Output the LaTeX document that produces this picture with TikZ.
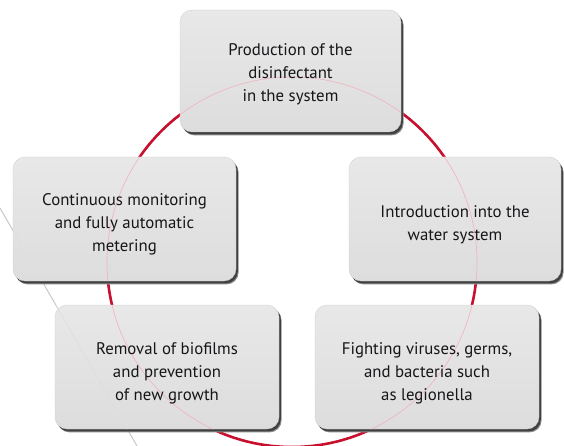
\documentclass[tikz,border=0pt]{standalone}
\usepackage{fontspec}
\setmainfont{PT Sans}
\usetikzlibrary{shadows}
\definecolor{ringred}{RGB}{200,16,46}
\definecolor{boxtop}{RGB}{233,232,233}
\definecolor{boxbot}{RGB}{222,221,222}
\definecolor{txt}{RGB}{22,22,24}
\definecolor{thinline}{RGB}{200,200,200}
\begin{document}
\begin{tikzpicture}[x=1pt,y=-1pt,
  ring/.style={draw=ringred, line width=2.6pt},
  ghost/.style={draw=ringred!30, line width=0.7pt},
  thin/.style={draw=thinline, line width=1pt},
  ghostthin/.style={draw=thinline!60, line width=0.7pt},
  stagebox/.style={rounded corners=12pt, inner sep=0pt,
    top color=boxtop, bottom color=boxbot,
    drop shadow={shadow xshift=2.6pt, shadow yshift=-3.4pt, fill=black!45, opacity=1},
    drop shadow={shadow xshift=1.8pt, shadow yshift=-2.4pt, fill=black!75, opacity=1},
    draw=white!80!black, line width=0.3pt},
  stagetext/.style={align=center, inner sep=0pt, text=txt,
    font=\fontsize{16.8}{23}\selectfont}
]
\useasboundingbox (0,0) rectangle (564,446);
\coordinate (c) at (292,262);
\coordinate (ga) at (0,208);
\coordinate (gb) at (137,446);
\draw[thin] (ga) -- (gb);
\draw[ring] (c) circle[radius=185pt];

\node[stagebox, minimum width=221pt, minimum height=122pt] (top) at (290.5,71) {};
\node[stagebox, minimum width=223pt, minimum height=124pt] (left) at (124.5,219) {};
\node[stagebox, minimum width=212pt, minimum height=124pt] (right) at (455,219) {};
\node[stagebox, minimum width=224pt, minimum height=124pt] (bl) at (167,367) {};
\node[stagebox, minimum width=224pt, minimum height=124pt] (br) at (427,367) {};

\begin{scope}
  \clip (top.south west) rectangle (top.north east)
        (left.south west) rectangle (left.north east)
        (right.south west) rectangle (right.north east)
        (bl.south west) rectangle (bl.north east)
        (br.south west) rectangle (br.north east);
  \draw[ghost] (c) circle[radius=185pt];
  \draw[ghostthin] (ga) -- (gb);
\end{scope}

\node[stagetext] (ttop) at ([yshift=-3pt]top.center)
  {Production of the\\disinfectant\\in the system};
\node[stagetext] (tleft) at ([yshift=-5pt]left.center)
  {Continuous monitoring\\and fully automatic\\metering};
\node[stagetext] (tright) at ([yshift=-6pt]right.center)
  {Introduction into the\\water system};
\node[stagetext] (tbl) at ([yshift=-6pt]bl.center)
  {Removal of biofilms\\and prevention\\of new growth};
\node[stagetext] (tbr) at ([yshift=-6pt]br.center)
  {Fighting viruses, germs,\\and bacteria such\\as legionella};
\end{tikzpicture}
\end{document}
